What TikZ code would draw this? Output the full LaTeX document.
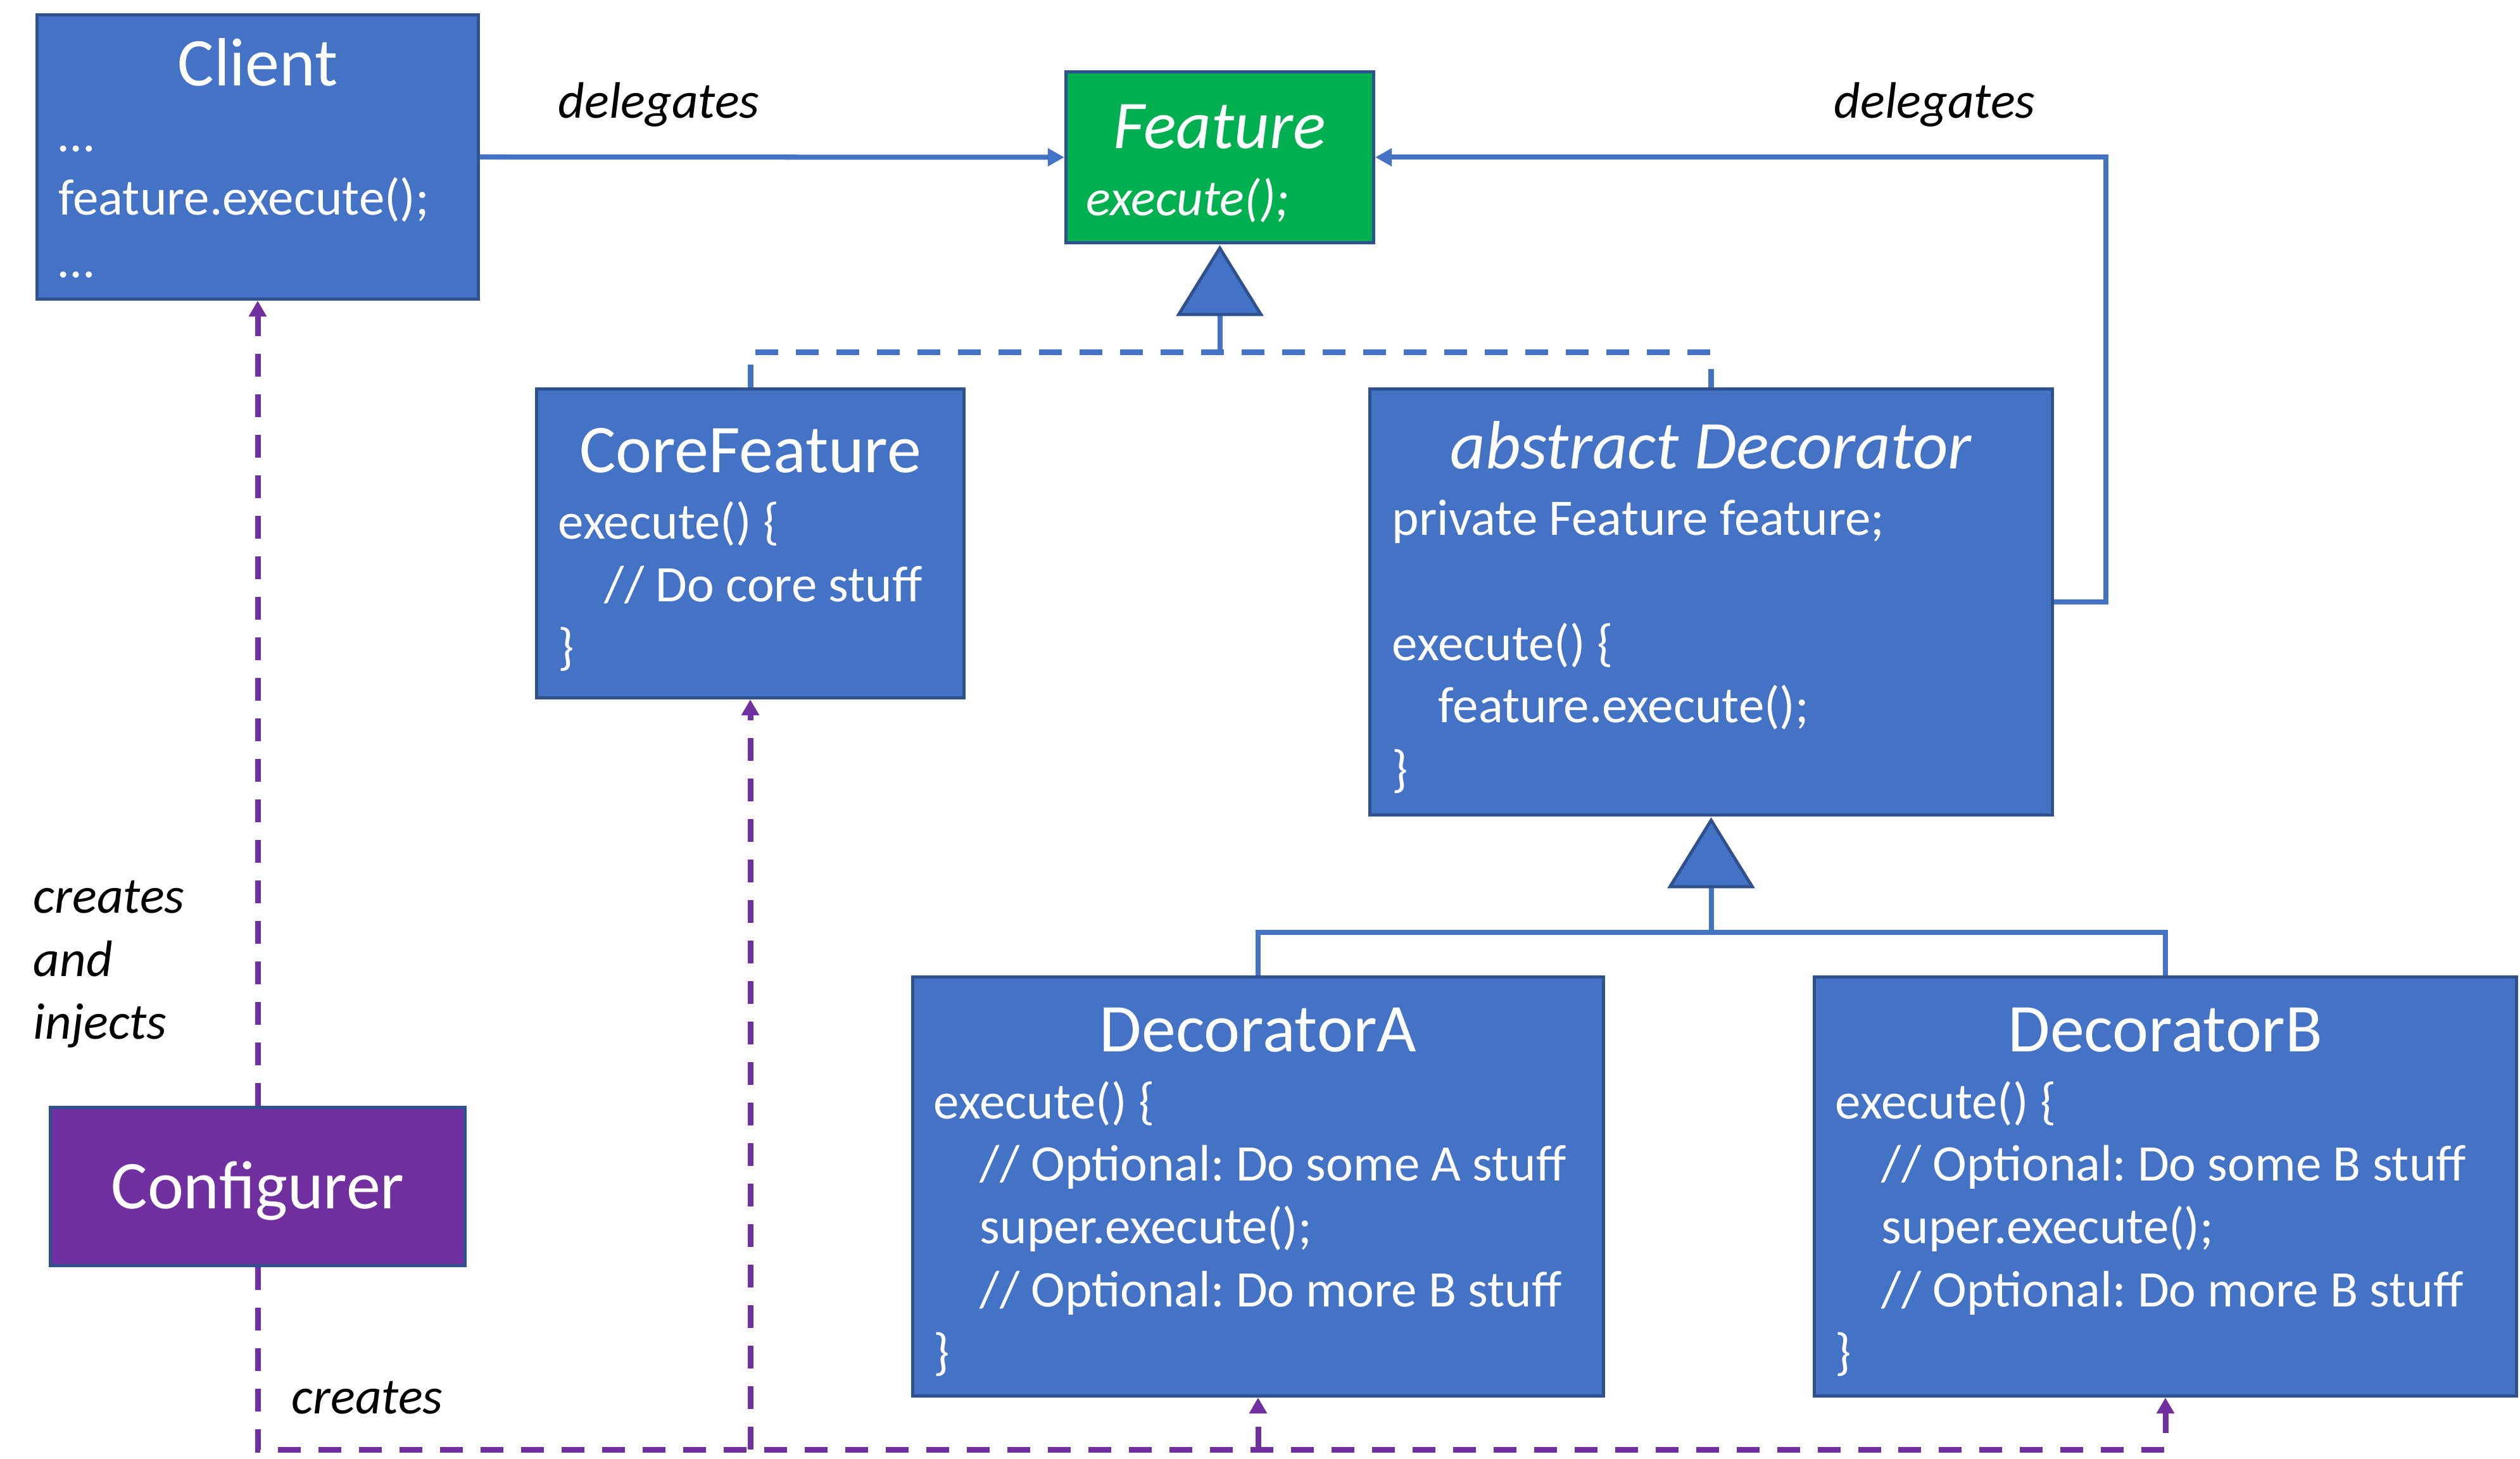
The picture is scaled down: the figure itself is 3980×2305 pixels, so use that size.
\documentclass[tikz,border=0pt]{standalone}
\usepackage{fontspec}
\setmainfont{Carlito}
\frenchspacing
\usetikzlibrary{arrows.meta,calc}
\definecolor{boxblue}{HTML}{4472C4}
\definecolor{bordc}{HTML}{2F528F}
\definecolor{featgreen}{HTML}{00B050}
\definecolor{cfgpurple}{HTML}{7030A0}
\tikzset{
  box/.style={draw=bordc, line width=1.11pt, fill=boxblue, inner sep=0pt},
  ttl/.style={text=white, font=\fontsize{24}{29}\selectfont, anchor=base, inner sep=0pt},
  ittl/.style={text=white, font=\fontsize{24}{29}\selectfont\itshape, anchor=base, inner sep=0pt},
  bod/.style={text=white, font=\fontsize{18}{22}\selectfont, anchor=base west, inner sep=0pt},
  ibod/.style={text=white, font=\fontsize{18}{22}\selectfont\itshape, anchor=base west, inner sep=0pt},
  lbl/.style={text=black, font=\fontsize{18}{22}\selectfont\itshape, anchor=base west, inner sep=0pt},
  bline/.style={draw=boxblue, line width=1.78pt},
  barrow/.style={bline, -{Triangle[width=6pt,length=5.8pt]}},
  bdash/.style={draw=boxblue, line width=2pt, dash pattern=on 8pt off 6.22pt},
  pdash/.style={draw=cfgpurple, line width=2pt, dash pattern=on 8pt off 6.22pt},
  parrow/.style={pdash, -{Triangle[width=6pt,length=5.6pt]}},
  gen/.style={draw=bordc, fill=boxblue, line width=1.11pt, line join=miter},
}
\begin{document}
\begin{tikzpicture}[x=0.222222pt, y=-0.222222pt]
\useasboundingbox (0,0) rectangle (3980,2305);
\fill[white] (0,0) rectangle (3980,2305);

% boxes
\node[box, minimum width=154.89pt, minimum height=99.78pt] (client) at (407,248) {};
\node[box, fill=featgreen, minimum width=108pt, minimum height=60pt] (feature) at (1926.5,248.5) {};
\node[box, minimum width=150pt, minimum height=108.44pt] (core) at (1185,858.5) {};
\node[box, minimum width=239.56pt, minimum height=149.56pt] (abs) at (2702.5,951) {};
\node[box, minimum width=242.44pt, minimum height=147.11pt] (decA) at (1987,1874.5) {};
\node[box, minimum width=246.44pt, minimum height=147.11pt] (decB) at (3420,1874.5) {};
\node[box, fill=cfgpurple, minimum width=145.56pt, minimum height=55.56pt] (conf) at (407,1874.5) {};

% texts: Client
\node[ttl] (clientT) at (407,136) {Client};
\node[bod] (clientL1) at (92,240) {…};
\node[bod] (clientL2) at (92,340) {feature.execute();};
\node[bod] (clientL3) at (92,439) {…};
% Feature
\node[ittl] (featT) at (1926,235) {Feature};
\node[ibod] (featL1) at (1715,341) {execute();};
% CoreFeature
\node[ttl] (coreT) at (1185,747) {CoreFeature};
\node[bod] (coreL1) at (881,852) {execute() \{};
\node[bod] (coreL2) at (954,951) {// Do core stuff};
\node[bod] (coreL3) at (881,1050) {\}};
% abstract Decorator
\node[ittl] (absT) at (2702,741) {abstract Decorator};
\node[bod] (absL1) at (2198,846) {private Feature feature;};
\node[bod] (absL2) at (2198,1044) {execute() \{};
\node[bod] (absL3) at (2271,1142) {feature.execute();};
\node[bod] (absL4) at (2198,1243) {\}};
% DecoratorA
\node[ttl] (decAT) at (1987,1662) {DecoratorA};
\node[bod] (decAL1) at (1474,1768) {execute() \{};
\node[bod] (decAL2) at (1547,1866) {// Optional: Do some A stuff};
\node[bod] (decAL3) at (1547,1965) {super.execute();};
\node[bod] (decAL4) at (1547,2064) {// Optional: Do more B stuff};
\node[bod] (decAL5) at (1474,2163) {\}};
% DecoratorB
\node[ttl] (decBT) at (3420,1662) {DecoratorB};
\node[bod] (decBL1) at (2898,1768) {execute() \{};
\node[bod] (decBL2) at (2971,1866) {// Optional: Do some B stuff};
\node[bod] (decBL3) at (2971,1965) {super.execute();};
\node[bod] (decBL4) at (2971,2064) {// Optional: Do more B stuff};
\node[bod] (decBL5) at (2898,2163) {\}};
% Configurer
\node[ttl] (confT) at (407,1910) {Configurer};

% labels
\node[lbl] (lblDel1) at (881,187) {delegates};
\node[lbl] (lblDel2) at (2896,187) {delegates};
\node[lbl] (lblCr1) at (52,1443) {creates};
\node[lbl] (lblCr2) at (52,1543) {and};
\node[lbl] (lblCr3) at (52,1642) {injects};
\node[lbl] (lblCr4) at (460,2233) {creates};

% blue connectors
\draw[barrow] (client.east) -- (feature.west);
\draw[barrow] (abs.east) -- ++(82,0) |- (feature.east);

\coordinate (t1) at ($(feature.south)+(0,111)$);
\coordinate (j1) at ($(t1)+(0,59.5)$);
\draw[bline] (t1) -- (j1);
\draw[bdash] (core.north) |- (j1) -| (abs.north);
\draw[gen] ($(feature.south)+(0,6)$) -- ($(t1)+(-65,0)$) -- ($(t1)+(65,0)$) -- cycle;

\coordinate (t2) at ($(abs.south)+(0,111)$);
\coordinate (j2) at ($(t2)+(0,72.5)$);
\draw[bline] (t2) -- (j2);
\draw[bline] (decA.north) |- (j2) -| (decB.north);
\draw[gen] ($(abs.south)+(0,6)$) -- ($(t2)+(-65,0)$) -- ($(t2)+(65,0)$) -- cycle;

% purple connectors
\draw[parrow] (conf.north) -- (client.south);
\coordinate (bus) at (0,2290);
\draw[parrow] (conf.south) -- (conf.south |- bus) -| (decB.south);
\draw[parrow] (core.south |- bus) -- (core.south);
\draw[parrow] (decA.south |- bus) -- (decA.south);
\end{tikzpicture}
\end{document}
